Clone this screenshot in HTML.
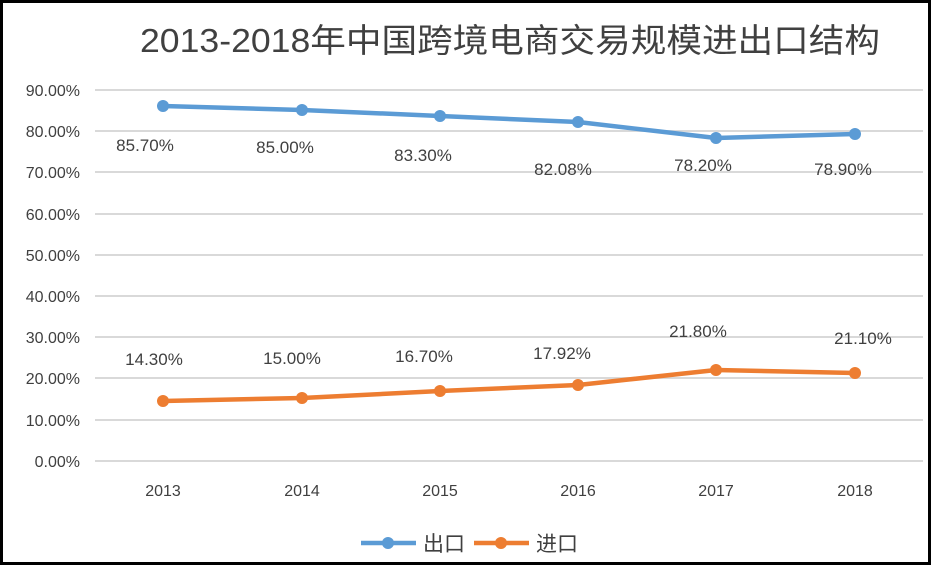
<!DOCTYPE html>
<html><head><meta charset="utf-8"><style>
body{margin:0;background:#fff}
svg{display:block}
text{font-family:"Liberation Sans","Noto Sans CJK SC",sans-serif;fill:#404040}
</style></head><body>
<svg width="933" height="566" viewBox="0 0 933 566">
<rect x="1.5" y="1.5" width="928" height="562" fill="#fff" stroke="#000" stroke-width="3"/>
<text x="140" y="52" font-size="33" textLength="740" lengthAdjust="spacingAndGlyphs" fill="#404040">2013-2018年中国跨境电商交易规模进出口结构</text>
<g stroke="#d9d9d9" stroke-width="2">
<line x1="95" x2="923" y1="90" y2="90"/><line x1="95" x2="923" y1="131" y2="131"/>
<line x1="95" x2="923" y1="172" y2="172"/><line x1="95" x2="923" y1="214" y2="214"/>
<line x1="95" x2="923" y1="255" y2="255"/><line x1="95" x2="923" y1="296" y2="296"/>
<line x1="95" x2="923" y1="337" y2="337"/><line x1="95" x2="923" y1="378" y2="378"/>
<line x1="95" x2="923" y1="420" y2="420"/><line x1="95" x2="923" y1="461" y2="461"/>
</g>
<g font-size="16" text-anchor="end">
<text x="80" y="96">90.00%</text><text x="80" y="137">80.00%</text><text x="80" y="178">70.00%</text>
<text x="80" y="220">60.00%</text><text x="80" y="261">50.00%</text><text x="80" y="302">40.00%</text>
<text x="80" y="343">30.00%</text><text x="80" y="384">20.00%</text><text x="80" y="426">10.00%</text>
<text x="80" y="467">0.00%</text>
</g>
<g font-size="16" text-anchor="middle">
<text x="163" y="496">2013</text><text x="302" y="496">2014</text><text x="440" y="496">2015</text>
<text x="578" y="496">2016</text><text x="716" y="496">2017</text><text x="855" y="496">2018</text>
</g>
<polyline points="163,106 302,110 440,116 578,122 716,138 855,134" fill="none" stroke="#5b9bd5" stroke-width="4.5" stroke-linejoin="round"/>
<g fill="#5b9bd5"><circle cx="163" cy="106" r="6"/><circle cx="302" cy="110" r="6"/><circle cx="440" cy="116" r="6"/><circle cx="578" cy="122" r="6"/><circle cx="716" cy="138" r="6"/><circle cx="855" cy="134" r="6"/></g>
<polyline points="163,401 302,398 440,391 578,385 716,370 855,373" fill="none" stroke="#ed7d31" stroke-width="4.5" stroke-linejoin="round"/>
<g fill="#ed7d31"><circle cx="163" cy="401" r="6"/><circle cx="302" cy="398" r="6"/><circle cx="440" cy="391" r="6"/><circle cx="578" cy="385" r="6"/><circle cx="716" cy="370" r="6"/><circle cx="855" cy="373" r="6"/></g>
<g font-size="17" text-anchor="middle">
<text x="145" y="151">85.70%</text><text x="285" y="153">85.00%</text><text x="423" y="161">83.30%</text>
<text x="563" y="175">82.08%</text><text x="703" y="171">78.20%</text><text x="843" y="175">78.90%</text>
<text x="154" y="365">14.30%</text><text x="292" y="364">15.00%</text><text x="424" y="362">16.70%</text>
<text x="562" y="359">17.92%</text><text x="698" y="337">21.80%</text><text x="863" y="344">21.10%</text>
</g>
<line x1="361" x2="416" y1="543" y2="543" stroke="#5b9bd5" stroke-width="4.5"/>
<circle cx="388" cy="543" r="6" fill="#5b9bd5"/>
<text x="423" y="551" font-size="21">出口</text>
<line x1="474" x2="529" y1="543" y2="543" stroke="#ed7d31" stroke-width="4.5"/>
<circle cx="501" cy="543" r="6" fill="#ed7d31"/>
<text x="536" y="551" font-size="21">进口</text>
</svg>
</body></html>
